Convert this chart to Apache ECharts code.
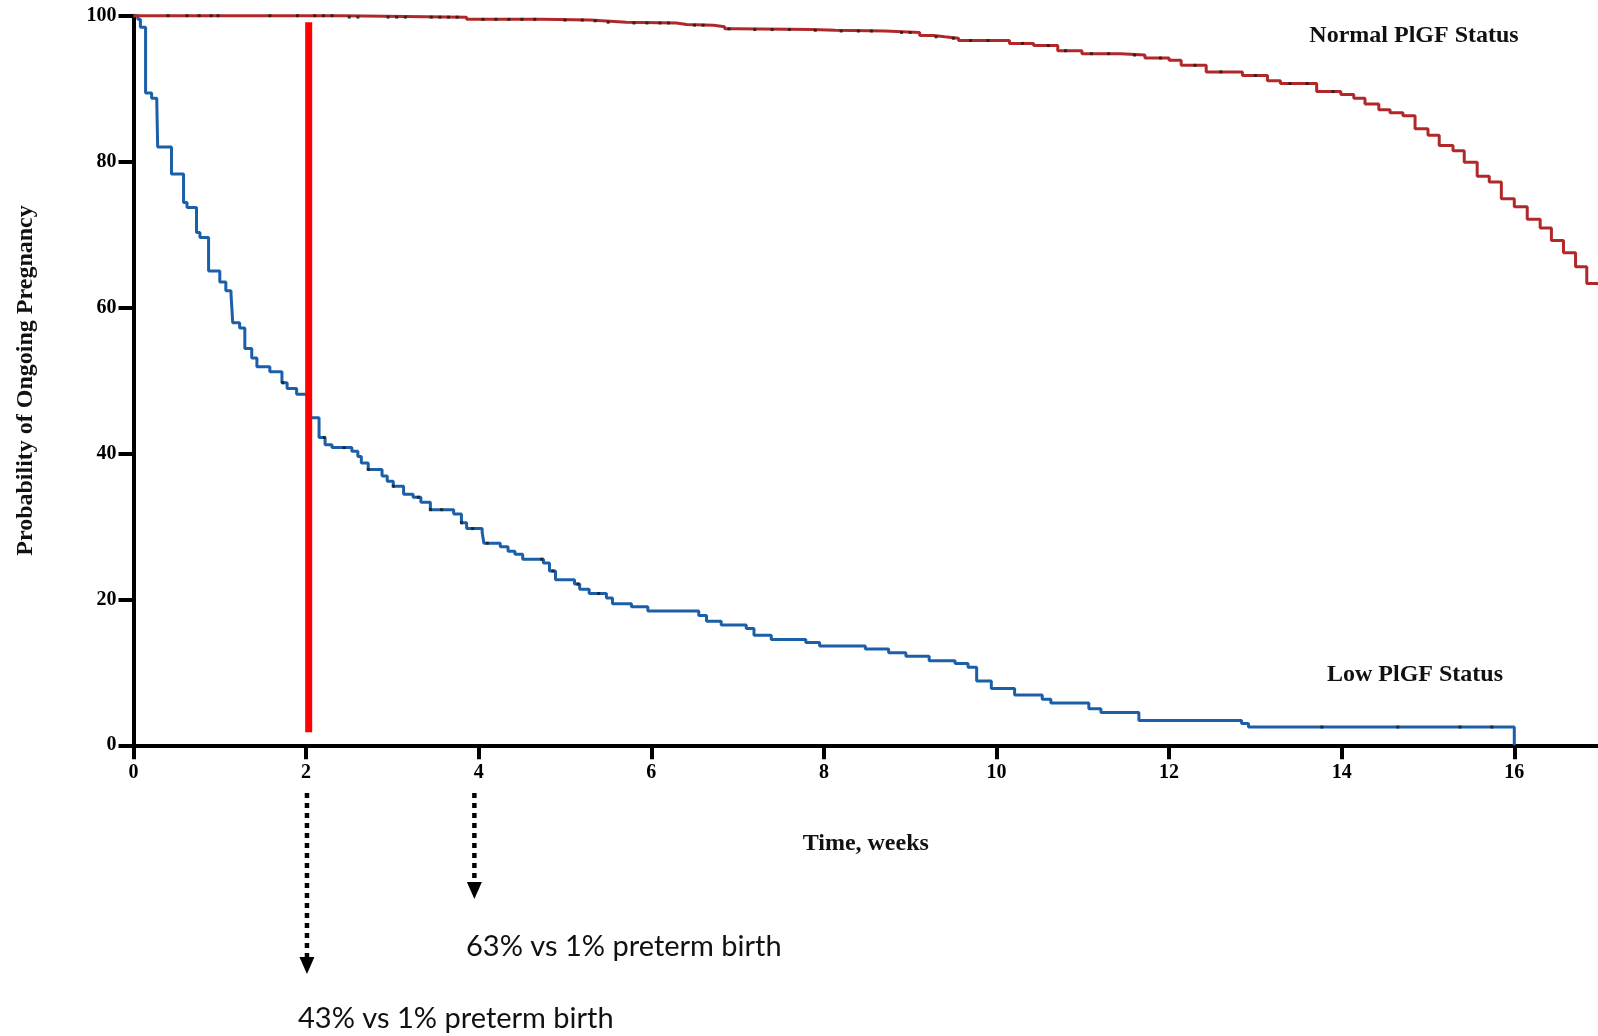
<!DOCTYPE html>
<html><head><meta charset="utf-8">
<script src="https://cdn.jsdelivr.net/npm/echarts@6/dist/echarts.min.js"></script>
<style>html,body{margin:0;padding:0;background:#fff;}#c{width:1598px;height:1036px;}</style>
</head><body><div id="c"></div>
<script>
// ---- data ----
const xTickValues = [0, 2, 4, 6, 8, 10, 12, 14, 16];
const lowTimes = [0,0.05,0.08,0.14,0.21,0.27,0.28,0.44,0.58,0.62,0.73,0.77,0.87,1.0,1.07,1.13,1.15,1.23,1.29,1.37,1.43,1.58,1.72,1.78,1.89,2.02,2.15,2.22,2.30,2.53,2.60,2.64,2.72,2.88,2.94,3.01,3.13,3.24,3.33,3.44,3.71,3.80,3.86,4.04,4.06,4.25,4.34,4.42,4.51,4.75,4.82,4.89,5.11,5.17,5.28,5.48,5.55,5.77,5.96,6.55,6.64,6.81,7.10,7.19,7.39,7.79,7.95,8.48,8.75,8.95,9.22,9.52,9.67,9.77,9.94,10.21,10.53,10.63,11.07,11.21,11.65,12.84,12.92,16.0];
const lowValues = [100,99.5,98.4,89.4,88.7,88.1,82.0,78.3,74.4,73.7,70.3,69.6,65.0,63.5,62.3,61.8,57.9,57.2,54.4,53.1,51.9,51.2,49.7,48.9,48.1,44.9,42.2,41.2,40.8,40.3,39.6,38.7,37.8,36.9,36.2,35.5,34.4,34.0,33.3,32.3,31.7,30.5,29.7,29.2,27.7,27.2,26.6,26.2,25.5,25.0,23.9,22.7,22.1,21.4,20.8,20.2,19.4,19.0,18.4,17.8,17.0,16.5,16.0,15.1,14.5,14.1,13.6,13.2,12.7,12.2,11.6,11.2,10.7,8.8,7.8,6.9,6.3,5.8,5.0,4.5,3.4,3.0,2.5,0];
const normalTimes = [0,2.43,3.86,4.73,5.29,5.43,5.71,6.29,6.41,6.72,6.85,6.99,7.86,8.13,8.71,9.11,9.27,9.40,9.56,10.15,10.43,10.71,10.99,11.44,11.72,12.0,12.14,12.43,12.85,13.14,13.29,13.71,13.99,14.14,14.27,14.43,14.56,14.71,14.85,15.0,15.13,15.29,15.42,15.57,15.71,15.85,16.0,16.15,16.30,16.43,16.57,16.71,16.84,16.97];
const normalValues = [100,99.8,99.5,99.4,99.3,99.1,99.0,98.8,98.7,98.5,98.2,98.1,98.0,97.9,97.7,97.3,97.1,96.9,96.6,96.2,95.9,95.2,94.8,94.6,94.2,93.9,93.2,92.3,91.8,91.1,90.7,89.6,89.2,88.7,87.9,87.1,86.7,86.3,84.5,83.6,82.2,81.5,79.9,78.0,77.2,74.9,73.8,72.1,70.9,69.2,67.5,65.6,63.3,63.3];
const lowCensorTimes = [1.73,2.21,2.44,2.72,3.01,3.3,3.44,3.57,3.8,3.93,4.1,4.73,4.86,5.15,5.39,13.77,14.65,15.37,15.74];
const normalCensorTimes = [0.4,0.62,0.76,0.9,0.98,1.58,1.9,2.1,2.2,2.3,2.5,2.6,2.95,3.05,3.15,3.45,3.55,3.65,3.75,4.05,4.2,4.35,4.5,4.65,5.0,5.2,5.35,5.5,5.8,5.95,6.1,6.2,6.5,6.6,6.9,7.2,7.4,7.6,7.9,8.2,8.4,8.55,8.9,9.0,9.3,9.5,9.7,9.9,10.3,10.6,10.8,11.1,11.3,11.6,11.9,12.3,12.6,13.0,13.4,13.6,13.9];
const cutoffWeek = 2.03;
const cutoffRange = [99.1, 1.8];
const seriesNames = ['Low PlGF Status', 'Normal PlGF Status'];
const arrowWeeks = [2.01, 3.95];
const notes = ['43% vs 1% preterm birth', '63% vs 1% preterm birth'];

// ---- helpers ----
const pairs = (t, v) => t.map((x, i) => [x, v[i]]);
function stepValue(times, values, t) {
  let v = values[0];
  for (let i = 0; i < times.length; i++) if (times[i] <= t) v = values[i];
  return v;
}
const serif = '"Liberation Serif", "Times New Roman", serif';

const chart = echarts.init(document.getElementById('c'), null, {renderer: 'canvas'});
chart.setOption({
  animation: false,
  backgroundColor: '#fff',
  grid: {left: 133.5, right: 0, top: 15.7, bottom: 290.7, containLabel: false},
  xAxis: {
    type: 'value', min: 0, max: 16.97,
    name: 'Time, weeks', nameLocation: 'middle', nameGap: 86,
    nameTextStyle: {fontFamily: serif, fontWeight: 'bold', fontSize: 24, color: '#111'},
    axisLine: {lineStyle: {color: '#000', width: 4}},
    axisTick: {show: true, inside: false, length: 14, lineStyle: {color: '#000', width: 4}, customValues: xTickValues},
    axisLabel: {margin: 18, fontFamily: serif, fontWeight: 'bold', fontSize: 20, color: '#000', customValues: xTickValues},
    splitLine: {show: false}
  },
  yAxis: {
    type: 'value', min: 0, max: 100, interval: 20,
    name: 'Probability of Ongoing Pregnancy', nameLocation: 'middle', nameGap: 96, nameRotate: 90,
    nameTextStyle: {fontFamily: serif, fontWeight: 'bold', fontSize: 24, color: '#111'},
    axisLine: {show: true, lineStyle: {color: '#000', width: 4}},
    axisTick: {show: true, inside: false, length: 15, lineStyle: {color: '#000', width: 4}},
    axisLabel: {margin: 17, fontFamily: serif, fontWeight: 'bold', fontSize: 20, color: '#000'},
    splitLine: {show: false}
  },
  series: [
    {
      name: seriesNames[0], type: 'line', step: 'end', clip: false, showSymbol: false, z: 3,
      lineStyle: {color: '#1b5fa8', width: 3},
      data: pairs(lowTimes, lowValues)
    },
    {
      name: seriesNames[1], type: 'line', step: 'end', clip: false, showSymbol: false, z: 3,
      lineStyle: {color: '#b0282a', width: 3},
      data: pairs(normalTimes, normalValues)
    },
    {
      type: 'scatter', symbol: 'rect', symbolSize: [3, 3], z: 4, clip: false,
      itemStyle: {color: '#1a1a1a'},
      data: lowCensorTimes.map(t => [t, stepValue(lowTimes, lowValues, t)])
        .concat(normalCensorTimes.map(t => [t, stepValue(normalTimes, normalValues, t)]))
    },
    {
      type: 'line', clip: false, showSymbol: false, z: 5,
      lineStyle: {color: '#ff0000', width: 7, cap: 'butt'},
      data: [[cutoffWeek, cutoffRange[0]], [cutoffWeek, cutoffRange[1]]]
    }
  ]
});

// annotations
const g = [];
const arrowTips = [974, 899];
arrowWeeks.forEach((w, i) => {
  const x = chart.convertToPixel({gridIndex: 0}, [w, 0])[0];
  const tip = arrowTips[i];
  g.push({type: 'line', shape: {x1: x, y1: 793, x2: x, y2: tip - 16},
    style: {stroke: '#000', lineWidth: 4.5, lineDash: [5, 5]}});
  g.push({type: 'polygon', shape: {points: [[x - 7.5, tip - 17], [x + 7.5, tip - 17], [x, tip]]},
    style: {fill: '#000'}});
});
g.push({type: 'text', style: {text: notes[1], x: 466, y: 947, fill: '#111',
  font: '29px Lato, "Open Sans", sans-serif', align: 'left', verticalAlign: 'middle'}});
g.push({type: 'text', style: {text: notes[0], x: 298, y: 1019, fill: '#111',
  font: '29px Lato, "Open Sans", sans-serif', align: 'left', verticalAlign: 'middle'}});
g.push({type: 'text', style: {text: seriesNames[1], x: 1414, y: 36, fill: '#111',
  font: 'bold 24px ' + serif, align: 'center', verticalAlign: 'middle'}});
g.push({type: 'text', style: {text: seriesNames[0], x: 1415, y: 675, fill: '#111',
  font: 'bold 24px ' + serif, align: 'center', verticalAlign: 'middle'}});
chart.setOption({graphic: {elements: g}});
</script></body></html>
